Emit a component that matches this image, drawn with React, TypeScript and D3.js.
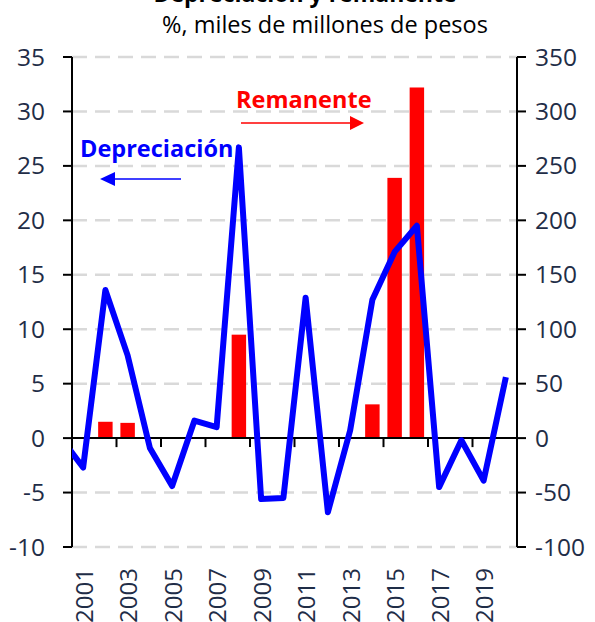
import { useEffect } from 'react';
import * as d3 from 'd3';

const years = [2001, 2002, 2003, 2004, 2005, 2006, 2007, 2008, 2009, 2010, 2011, 2012, 2013, 2014, 2015, 2016, 2017, 2018, 2019, 2020];
// depreciación del peso, % (eje izquierdo); the 2000 point only feeds the clipped first segment
const depreciacion2000 = 0.0;
const depreciacion = [-2.7, 13.6, 7.6, -0.9, -4.4, 1.6, 1.0, 26.7, -5.6, -5.5, 12.9, -6.8, 0.7, 12.7, 17.1, 19.5, -4.5, -0.2, -3.9, 5.6];
// remanente de operación, miles de millones de pesos (eje derecho)
const remanente = [0, 15, 14, 0, 0, 0, 0, 95, 0, 0, 0, 0, 0, 31, 239, 322, 0, 0, 0, 0];
const leftTicks = [-10, -5, 0, 5, 10, 15, 20, 25, 30, 35];
const rightTicks = [-100, -50, 0, 50, 100, 150, 200, 250, 300, 350];
const yearLabels = [2001, 2003, 2005, 2007, 2009, 2011, 2013, 2015, 2017, 2019];

const FONT = "'Open Sans', 'DejaVu Sans', sans-serif";
const TXT = '#1f2d47';

export default function App() {
  useEffect(() => {
    document.body.style.margin = '0';
  }, []);

  const left = 72, right = 517, top = 57, bottom = 547;
  const x = d3.scaleLinear().domain([years[0] - 0.5, years[years.length - 1] + 0.5]).range([left, right]);
  const step = x(1) - x(0);
  const yL = d3.scaleLinear().domain([-10, 35]).range([bottom, top]);
  const yR = d3.scaleLinear().domain([-100, 350]).range([bottom, top]);

  const linePts: [number, number][] = [[years[0] - 1, depreciacion2000], ...years.map((yr, i) => [yr, depreciacion[i]] as [number, number])];
  const line = d3.line<[number, number]>().x(d => x(d[0])).y(d => yL(d[1]));

  const barW = step * 0.65;
  const boundaryTicks = d3.range(0, years.length + 1, 2).map(i => x(years[0] - 0.5 + i));

  return (
    <svg width={595} height={622} style={{ display: 'block', fontFamily: FONT }}>
      <defs>
        <clipPath id="plot">
          <rect x={left} y={0} width={right - left} height={622} />
        </clipPath>
      </defs>

      {/* the title's first line sits mostly above the frame, as in the source */}
      <text x={305} y={2} textAnchor="middle" fontSize={23} fontWeight="bold" fill="#000">Depreciación y remanente</text>
      <text x={325} y={33} textAnchor="middle" fontSize={23.5} fill="#000">%, miles de millones de pesos</text>

      {leftTicks.filter(t => t !== 0).map(t => (
        <line key={t} x1={left} x2={right} y1={yL(t)} y2={yL(t)} stroke="#d9d9d9" strokeWidth={2.5} strokeDasharray="15 8" />
      ))}

      {remanente.map((v, i) => v > 0 ? (
        <rect key={years[i]} x={x(years[i]) - barW / 2} y={yR(v)} width={barW} height={yR(0) - yR(v)} fill="#ff0000" />
      ) : null)}

      {/* ejes */}
      <line x1={left} x2={left} y1={top} y2={bottom} stroke="#000" strokeWidth={2} />
      <line x1={right} x2={right} y1={top} y2={bottom} stroke="#000" strokeWidth={2} />
      {leftTicks.map(t => (
        <g key={t}>
          <line x1={left - 9} x2={left} y1={yL(t)} y2={yL(t)} stroke="#000" strokeWidth={2} />
          <text x={45} y={yL(t)} dy="0.35em" textAnchor="end" fontSize={24.5} fill={TXT}>{t}</text>
        </g>
      ))}
      {rightTicks.map(t => (
        <g key={t}>
          <line x1={right} x2={right + 9} y1={yR(t)} y2={yR(t)} stroke="#000" strokeWidth={2} />
          <text x={535} y={yR(t)} dy="0.35em" textAnchor="start" fontSize={24.5} fill={TXT}>{t}</text>
        </g>
      ))}
      <line x1={left} x2={right} y1={yL(0)} y2={yL(0)} stroke="#000" strokeWidth={2} />
      {boundaryTicks.map(bx => (
        <line key={bx} x1={bx} x2={bx} y1={yL(0)} y2={yL(0) + 9} stroke="#000" strokeWidth={2} />
      ))}
      {yearLabels.map(yr => (
        <text key={yr} transform={`translate(${x(yr) + 1},568) rotate(-90)`} dy="0.35em" textAnchor="end" fontSize={24} fill={TXT}>{yr}</text>
      ))}

      <path d={line(linePts) ?? ''} fill="none" stroke="#0000ff" strokeWidth={6} strokeLinejoin="round" clipPath="url(#plot)" />

      {/* anotaciones */}
      <text x={236} y={108} fontSize={23.5} fontWeight="bold" fill="#ff0000">Remanente</text>
      <line x1={241} x2={351} y1={123} y2={123} stroke="#ff0000" strokeWidth={1.5} />
      <path d="M364,123 L350,116 L350,130 Z" fill="#ff0000" />
      <text x={80} y={157} fontSize={23.5} fontWeight="bold" fill="#0000ff">Depreciación</text>
      <line x1={114} x2={181} y1={179} y2={179} stroke="#0000ff" strokeWidth={1.5} />
      <path d="M100,179 L115,172 L115,186 Z" fill="#0000ff" />
    </svg>
  );
}
